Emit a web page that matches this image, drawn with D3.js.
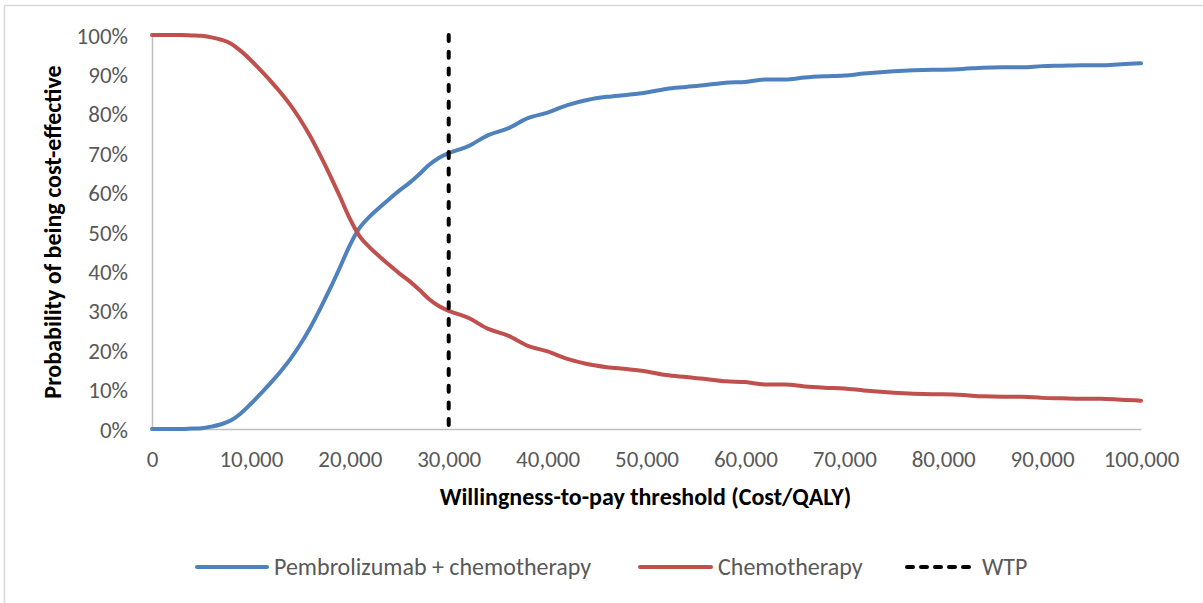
<!DOCTYPE html>
<html>
<head>
<meta charset="utf-8">
<script src="https://cdn.jsdelivr.net/npm/d3@7"></script>
<style>
  html, body { margin: 0; padding: 0; background: #ffffff; }
  svg { display: block; }
  text { font-family: Carlito, Calibri, Lato, "Open Sans", sans-serif; }
</style>
</head>
<body>
<svg id="chart" width="1203" height="603"></svg>
<script>
// Willingness-to-pay thresholds (Cost/QALY)
const wtp = [
  0, 1000, 2000, 3000, 4000, 5000, 6000, 7000, 8000, 9000,
  10000, 11000, 12000, 13000, 14000, 15000, 16000, 17000, 18000, 19000,
  20000, 21000, 22000, 23000, 24000, 25000, 26000, 27000, 28000, 29000,
  30000, 32000, 34000, 36000, 38000, 40000, 42000, 44000, 46000, 48000,
  50000, 52000, 54000, 56000, 58000, 60000, 62000, 64000, 66000, 68000,
  70000, 72000, 74000, 76000, 78000, 80000, 82000, 84000, 86000, 88000,
  90000, 92000, 94000, 96000, 98000, 100000
];

// Probability of being cost-effective (%)
const pembroChemo = [
  0, 0, 0, 0, 0.1, 0.2, 0.6, 1.2, 2.2, 4.0,
  6.4, 9.0, 11.7, 14.6, 17.8, 21.5, 25.7, 30.5, 35.6, 41.0,
  46.6, 51.1, 53.9, 56.2, 58.4, 60.5, 62.4, 64.6, 67.0, 68.8,
  70.0, 71.8, 74.6, 76.3, 78.9, 80.3, 82.2, 83.5, 84.3, 84.8,
  85.4, 86.3, 86.8, 87.3, 87.9, 88.1, 88.7, 88.7, 89.2, 89.5,
  89.7, 90.2, 90.6, 90.9, 91.1, 91.2, 91.4, 91.7, 91.8, 91.8,
  92.1, 92.2, 92.3, 92.3, 92.6, 92.8
];

const chemo = [
  100, 100, 100, 100, 99.9, 99.8, 99.4, 98.8, 97.8, 95.9,
  93.6, 91.0, 88.3, 85.4, 82.2, 78.5, 74.3, 69.5, 64.4, 59.0,
  53.4, 48.9, 46.1, 43.8, 41.6, 39.5, 37.6, 35.4, 33.0, 31.2,
  30.0, 28.2, 25.4, 23.7, 21.1, 19.7, 17.8, 16.5, 15.7, 15.2,
  14.6, 13.7, 13.2, 12.7, 12.1, 11.9, 11.3, 11.3, 10.8, 10.5,
  10.3, 9.8, 9.4, 9.1, 8.9, 8.8, 8.6, 8.3, 8.2, 8.2,
  7.9, 7.8, 7.7, 7.7, 7.4, 7.2
];

// Threshold marker
const wtpThreshold = 30000;

const xTicks = [0, 10000, 20000, 30000, 40000, 50000, 60000, 70000, 80000, 90000, 100000];
const yTicks = [0, 10, 20, 30, 40, 50, 60, 70, 80, 90, 100];

const seriesNames = ["Pembrolizumab + chemotherapy", "Chemotherapy", "WTP"];
const seriesColors = ["#4F81BD", "#C0504D", "#000000"];

const svg = d3.select("#chart");
const W = 1203, H = 603;
const plot = { left: 152, right: 1141, top: 35, bottom: 429 };
const labelSize = 23;
const legendSize = 24;
const titleSize = 24;

svg.append("rect").attr("width", W).attr("height", H).attr("fill", "#ffffff");

// Chart frame
svg.append("rect")
  .attr("x", 4.5).attr("y", 5.5)
  .attr("width", W + 10).attr("height", H + 10)
  .attr("fill", "none").attr("stroke", "#D9D9D9").attr("stroke-width", 1.5);

const x = d3.scaleLinear().domain([0, 100000]).range([plot.left, plot.right]);
const y = d3.scaleLinear().domain([0, 100]).range([plot.bottom, plot.top]);

// Axes
const xAxis = d3.axisBottom(x)
  .tickValues(xTicks)
  .tickSize(0)
  .tickPadding(0)
  .tickFormat(d3.format(",.0f"));
const gx = svg.append("g").attr("transform", `translate(0,${plot.bottom})`).call(xAxis);
gx.attr("font-family", null);
gx.select(".domain").attr("stroke", "#BFBFBF").attr("stroke-width", 1.5);
gx.selectAll("text")
  .attr("y", 38).attr("dy", 0)
  .attr("fill", "#595959").attr("font-size", labelSize);

const yAxis = d3.axisLeft(y)
  .tickValues(yTicks)
  .tickSize(0)
  .tickPadding(0)
  .tickFormat(d => d + "%");
const gy = svg.append("g").attr("transform", `translate(${plot.left},0)`).call(yAxis);
gy.attr("font-family", null);
gy.select(".domain").attr("stroke", "#BFBFBF").attr("stroke-width", 1.5);
gy.selectAll("text")
  .attr("x", -24).attr("dy", "0.35em")
  .attr("fill", "#595959").attr("font-size", labelSize);

// Axis titles
svg.append("text")
  .attr("x", (plot.left + plot.right) / 2 - 1).attr("y", 505)
  .attr("text-anchor", "middle")
  .attr("font-size", titleSize).attr("font-weight", "bold").attr("fill", "#000000")
  .text("Willingness-to-pay threshold (Cost/QALY)");

svg.append("text")
  .attr("transform", `translate(61,${(plot.top + plot.bottom) / 2}) rotate(-90)`)
  .attr("text-anchor", "middle")
  .attr("font-size", titleSize).attr("font-weight", "bold").attr("fill", "#000000")
  .text("Probability of being cost-effective");

// Curves
const line = d3.line()
  .x(d => x(d[0]))
  .y(d => y(d[1]))
  .curve(d3.curveMonotoneX);

const series = [pembroChemo, chemo];
series.forEach((vals, i) => {
  svg.append("path")
    .datum(wtp.map((w, k) => [w, vals[k]]))
    .attr("fill", "none")
    .attr("stroke", seriesColors[i])
    .attr("stroke-width", 4)
    .attr("stroke-linejoin", "round")
    .attr("stroke-linecap", "round")
    .attr("d", line);
});

// WTP threshold line
svg.append("line")
  .attr("x1", x(wtpThreshold)).attr("x2", x(wtpThreshold))
  .attr("y1", y(100)).attr("y2", y(0))
  .attr("stroke", seriesColors[2])
  .attr("stroke-width", 4)
  .attr("stroke-linecap", "round")
  .attr("stroke-dasharray", "6,10.7");

// Legend
const legendY = 567;
const legendItems = [
  { x: 197, w: 70 },
  { x: 640, w: 71 },
  { x: 907, w: 68 }
];
legendItems.forEach((it, i) => {
  const ln = svg.append("line")
    .attr("x1", it.x).attr("x2", it.x + it.w)
    .attr("y1", legendY).attr("y2", legendY)
    .attr("stroke", seriesColors[i])
    .attr("stroke-width", 4)
    .attr("stroke-linecap", "round");
  if (i === 2) ln.attr("stroke-dasharray", "6,8");
  svg.append("text")
    .attr("x", it.x + it.w + 7).attr("y", legendY)
    .attr("dy", "0.35em")
    .attr("font-size", legendSize).attr("fill", "#595959")
    .text(seriesNames[i]);
});
</script>
</body>
</html>
